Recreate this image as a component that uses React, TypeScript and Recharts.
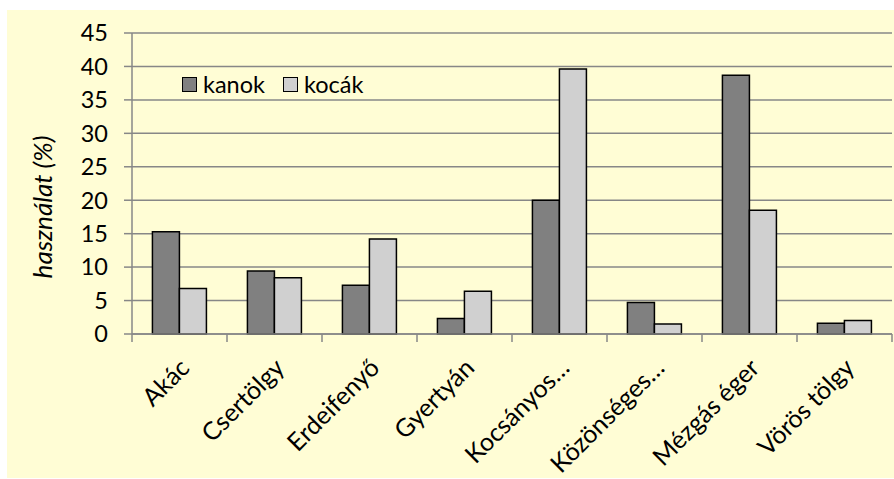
import { Bar, BarChart, CartesianGrid, Label, Legend, XAxis, YAxis } from 'recharts';

const CATEGORIES = ['Akác', 'Csertölgy', 'Erdeifenyő', 'Gyertyán', 'Kocsányos…', 'Közönséges…', 'Mézgás éger', 'Vörös tölgy'];
const KANOK = [15.3, 9.4, 7.3, 2.3, 20.0, 4.7, 38.7, 1.6];
const KOCAK = [6.8, 8.4, 14.2, 6.4, 39.6, 1.5, 18.5, 2.0];
const Y_TICKS = [0, 5, 10, 15, 20, 25, 30, 35, 40, 45];

const SERIES = [
  { key: 'kanok', label: 'kanok', color: '#808080' },
  { key: 'kocak', label: 'kocák', color: '#d0d0d0' }
];

const FONT = 'Lato, "Open Sans", sans-serif';
const GRID = '#878787';
const W = 894;
const H = 479;
const M = { top: 33, right: 2, left: 7, bottom: 0 };
const Y_W = 125;
const HALF_BAND = (W - M.left - M.right - Y_W) / CATEGORIES.length / 2;

const data = CATEGORIES.map((name, i) => ({ name, kanok: KANOK[i], kocak: KOCAK[i] }));

function CategoryTick(props: any) {
  const { x, y, payload, index } = props;
  const last = index === CATEGORIES.length - 1;
  const tx = x + 7;
  const ty = y + 31;
  return (
    <g>
      <line x1={x - HALF_BAND} x2={x - HALF_BAND} y1={y} y2={y + 8} stroke={GRID} strokeWidth={1.5} />
      {last && <line x1={x + HALF_BAND} x2={x + HALF_BAND} y1={y} y2={y + 8} stroke={GRID} strokeWidth={1.5} />}
      <text
        x={tx}
        y={ty}
        transform={`rotate(-45 ${tx} ${ty})`}
        textAnchor="end"
        dominantBaseline="middle"
        fontSize={25}
        fontFamily={FONT}
        fill="#000"
      >
        {payload.value}
      </text>
    </g>
  );
}

function LegendBox() {
  return (
    <div style={{ display: 'flex', gap: 18, fontFamily: FONT, fontSize: 23.5, color: '#000' }}>
      {SERIES.map((s) => (
        <div key={s.key} style={{ display: 'flex', alignItems: 'center' }}>
          <span style={{ width: 13, height: 13, background: s.color, border: '1.5px solid #000', marginRight: 6 }} />
          <span>{s.label}</span>
        </div>
      ))}
    </div>
  );
}

export default function App() {
  return (
    <div style={{ position: 'absolute', left: 0, top: 0, width: W, height: H, background: '#fff' }}>
      <div style={{ position: 'absolute', left: 7, top: 10, width: W - 7, height: H - 11, background: '#fffdd5' }} />
      <div style={{ position: 'absolute', left: 0, top: 0 }}>
        <BarChart width={W} height={H} data={data} margin={M} barCategoryGap="21.5%" barGap={0}>
          <CartesianGrid vertical={false} stroke={GRID} strokeWidth={1.5} />
          <XAxis
            dataKey="name"
            interval={0}
            height={145}
            axisLine={{ stroke: GRID, strokeWidth: 1.5 }}
            tickLine={false}
            tickSize={0}
            tickMargin={0}
            tick={<CategoryTick />}
          />
          <YAxis
            width={Y_W}
            domain={[0, 45]}
            ticks={Y_TICKS}
            interval={0}
            axisLine={{ stroke: GRID, strokeWidth: 1.5 }}
            tickLine={{ stroke: GRID, strokeWidth: 1.5 }}
            tickSize={8}
            tickMargin={16}
            tick={{ fontSize: 23.5, fontFamily: FONT, fill: '#000' }}
          >
            <Label
              content={() => (
                <text
                  x={45}
                  y={207}
                  transform="rotate(-90 45 207)"
                  textAnchor="middle"
                  dominantBaseline="middle"
                  fontSize={26}
                  fontStyle="italic"
                  fontFamily={FONT}
                  fill="#000"
                >
                  használat (%)
                </text>
              )}
            />
          </YAxis>
          <Legend
            layout="vertical"
            align="center"
            verticalAlign="middle"
            content={<LegendBox />}
            wrapperStyle={{ position: 'absolute', top: 70, left: 182, width: 'auto' }}
          />
          {SERIES.map((s) => (
            <Bar
              key={s.key}
              dataKey={s.key}
              name={s.label}
              fill={s.color}
              stroke="#000"
              strokeWidth={1.5}
              isAnimationActive={false}
            />
          ))}
        </BarChart>
      </div>
    </div>
  );
}
